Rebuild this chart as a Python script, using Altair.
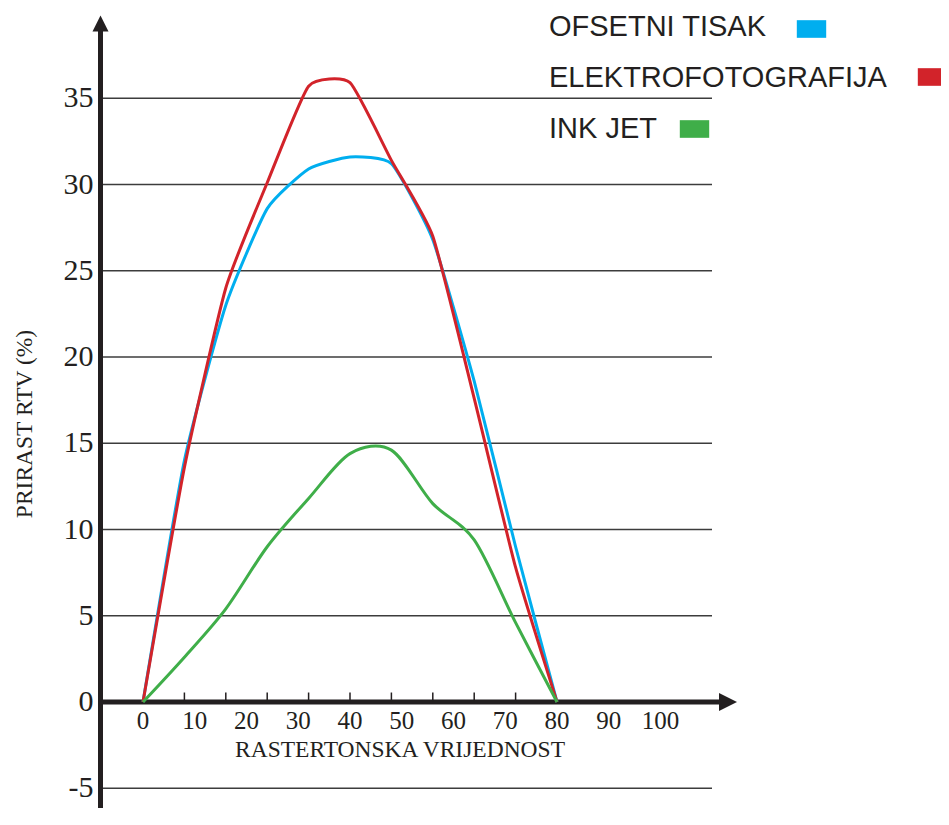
import altair as alt
import pandas as pd

# ---------------- data ----------------
x_values = [0, 8, 16, 24, 32, 40, 48, 56, 64, 72, 80]
ofsetni_tisak = [0, 14.0, 23.0, 28.6, 30.9, 31.6, 31.2, 26.8, 18.6, 9.0, 0]
elektrofotografija = [0, 13.6, 24.0, 30.1, 35.7, 35.9, 31.4, 27.0, 17.6, 7.8, 0]
ink_jet = [0, 2.6, 5.4, 9.0, 11.8, 14.4, 14.6, 11.5, 9.4, 4.6, 0]

series_names = ["OFSETNI TISAK", "ELEKTROFOTOGRAFIJA", "INK JET"]
series_colors = ["#00aeef", "#d2232a", "#3fae49"]

x_tick_labels = [0, 10, 20, 30, 40, 50, 60, 70, 80, 90, 100]
y_tick_labels = [-5, 0, 5, 10, 15, 20, 25, 30, 35]
grid_values = [-5, 5, 10, 15, 20, 25, 30, 35]
x_title = "RASTERTONSKA VRIJEDNOST"
y_title = "PRIRAST RTV (%)"

# ---------------- layout ----------------
W, H = 933, 800
PAGE = 8
PX_PER_X = (557 - 143) / 80.0
PX_PER_Y = 17.25
X0_PX = 143 - PAGE
Y0_PX = 702 - PAGE
X_MIN = -X0_PX / PX_PER_X
X_MAX = (W - X0_PX) / PX_PER_X
Y_MAX = Y0_PX / PX_PER_Y
Y_MIN = -(H - Y0_PX) / PX_PER_Y


def px_x(page_x):
    return (page_x - 143) / PX_PER_X


def px_y(page_y):
    return (702 - page_y) / PX_PER_Y


AXIS_X = px_x(100.5)
GRID_X1 = px_x(712)
XAXIS_END = px_x(724)
XARROW_C = px_x(728)
YAXIS_TOP = px_y(28)
YARROW_C = px_y(23.5)

INK = "#231f20"
SERIF = "Liberation Serif"
SANS = "Liberation Sans"

xs = alt.Scale(domain=[X_MIN, X_MAX], nice=False, zero=False)
ys = alt.Scale(domain=[Y_MIN, Y_MAX], nice=False, zero=False)


def X(field):
    return alt.X(field, type="quantitative", scale=xs, axis=None)


def Y(field):
    return alt.Y(field, type="quantitative", scale=ys, axis=None)


# gridlines
grid_df = pd.DataFrame({"v": grid_values, "x0": AXIS_X, "x1": GRID_X1})
grid = alt.Chart(grid_df).mark_rule(color="#3c3c3c", strokeWidth=1.3).encode(
    x=X("x0"), x2="x1", y=Y("v")
)

# axes lines
yaxis_df = pd.DataFrame({"x": [AXIS_X], "y0": [Y_MIN], "y1": [YAXIS_TOP]})
yaxis = alt.Chart(yaxis_df).mark_rule(color=INK, strokeWidth=5).encode(
    x=X("x"), y=Y("y0"), y2="y1"
)
xaxis_df = pd.DataFrame({"x0": [AXIS_X - 0.4], "x1": [XAXIS_END], "y": [0]})
xaxis = alt.Chart(xaxis_df).mark_rule(color=INK, strokeWidth=5).encode(
    x=X("x0"), x2="x1", y=Y("y")
)

# arrow heads
up_df = pd.DataFrame({"x": [AXIS_X], "y": [YARROW_C]})
up_arrow = alt.Chart(up_df).mark_point(
    shape="M0,-1L1,1L-1,1Z", filled=True, size=256, color=INK, opacity=1, strokeWidth=0
).encode(x=X("x"), y=Y("y"))
right_df = pd.DataFrame({"x": [XARROW_C], "y": [0]})
right_arrow = alt.Chart(right_df).mark_point(
    shape="M1,0L-1,-1L-1,1Z", filled=True, size=324, color=INK, opacity=1, strokeWidth=0
).encode(x=X("x"), y=Y("y"))

# tick marks on x axis (at measurement points)
tick_df = pd.DataFrame({"x": x_values[1:-1], "y0": 0.0, "y1": 0.55})
ticks = alt.Chart(tick_df).mark_rule(color=INK, strokeWidth=1.5).encode(
    x=X("x"), y=Y("y0"), y2="y1"
)

# data lines
rows = []
for name, vals in zip(series_names, [ofsetni_tisak, elektrofotografija, ink_jet]):
    for xv, yv in zip(x_values, vals):
        rows.append({"series": name, "x": xv, "y": yv})
lines_df = pd.DataFrame(rows)

line_layers = []
tensions = [0.5, 0.5, 0.1]
for name, col, t in zip(series_names, series_colors, tensions):
    line_layers.append(
        alt.Chart(lines_df)
        .transform_filter(alt.datum.series == name)
        .mark_line(interpolate="cardinal", tension=t, strokeWidth=3, color=col)
        .encode(x=X("x"), y=Y("y"), order="x:Q")
    )

# tick labels
ylab_df = pd.DataFrame({"v": y_tick_labels, "x": AXIS_X, "t": [str(v) for v in y_tick_labels]})
ylabels = alt.Chart(ylab_df).mark_text(
    align="right", baseline="middle", dx=-7, font=SERIF, fontSize=30, color=INK
).encode(x=X("x"), y=Y("v"), text="t:N")

xlab_df = pd.DataFrame({"v": x_tick_labels, "y": 0.0, "t": [str(v) for v in x_tick_labels]})
xlabels = alt.Chart(xlab_df).mark_text(
    align="center", baseline="alphabetic", dy=27, font=SERIF, fontSize=25, color=INK
).encode(x=X("v"), y=Y("y"), text="t:N")

# axis titles (pixel placement)
xt_df = pd.DataFrame({"px": [400 - PAGE], "py": [757 - PAGE], "t": [x_title]})
xtitle = alt.Chart(xt_df).mark_text(
    align="center", baseline="alphabetic", font=SERIF, fontSize=23.5, color=INK
).encode(x=alt.X("px:Q", scale=None), y=alt.Y("py:Q", scale=None), text="t:N")

yt_df = pd.DataFrame({"px": [25 - PAGE], "py": [424 - PAGE], "t": [y_title]})
ytitle = alt.Chart(yt_df).mark_text(
    align="center", baseline="middle", angle=270, font=SERIF, fontSize=23.5, color=INK
).encode(x=alt.X("px:Q", scale=None), y=alt.Y("py:Q", scale=None), text="t:N")

# legend (labels left, swatches to the right)
leg_df = pd.DataFrame({
    "name": series_names,
    "color": series_colors,
    "tx": [549 - PAGE] * 3,
    "ty": [36 - PAGE, 87 - PAGE, 138 - PAGE],
    "sx": [811.5 - PAGE, 932.5 - PAGE, 694.5 - PAGE],
    "sy": [29 - PAGE, 77 - PAGE, 129 - PAGE],
})
leg_text = alt.Chart(leg_df).mark_text(
    align="left", baseline="alphabetic", font=SANS, fontSize=29, color=INK
).encode(x=alt.X("tx:Q", scale=None), y=alt.Y("ty:Q", scale=None), text="name:N")
leg_sw = alt.Chart(leg_df).mark_point(
    shape="M-1,-0.6L1,-0.6L1,0.6L-1,0.6Z", filled=True, size=864, opacity=1, strokeWidth=0
).encode(
    x=alt.X("sx:Q", scale=None),
    y=alt.Y("sy:Q", scale=None),
    color=alt.Color("color:N", scale=None),
)

chart = alt.layer(
    grid, yaxis, xaxis, ticks, up_arrow, right_arrow,
    *line_layers,
    ylabels, xlabels, xtitle, ytitle, leg_text, leg_sw,
).properties(
    width=W, height=H, autosize=alt.AutoSizeParams(type="none"), padding=0,
    background="white",
).configure_view(stroke=None)

chart.save("out.html", embed_options={"renderer": "svg", "actions": False})
